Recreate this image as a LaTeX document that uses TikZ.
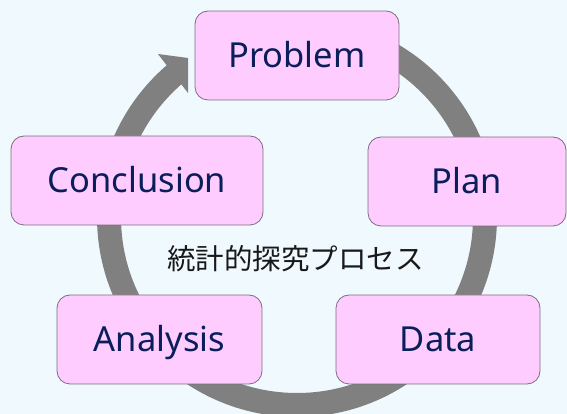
\documentclass[tikz,border=0pt]{standalone}
\usepackage{fontspec}
\setmainfont{Noto Sans}
\newfontfamily\cjk{Noto Sans CJK JP}
\definecolor{bgcol}{RGB}{239,249,254}
\definecolor{boxfill}{RGB}{255,204,255}
\definecolor{boxborder}{RGB}{125,110,125}
\definecolor{labelcol}{RGB}{10,30,90}
\definecolor{ringcol}{RGB}{128,128,128}
\begin{document}
\begin{tikzpicture}[x=1pt,y=1pt,
  stage/.style={draw=boxborder, line width=0.8pt, fill=boxfill, rounded corners=13pt,
    minimum height=89pt, text=labelcol, font=\fontsize{34.5}{40}\selectfont,
    text height=24.6pt, text depth=0pt, inner sep=0pt},
  ring/.style={draw=ringcol, line width=24pt}]
\fill[bgcol] (0,0) rectangle (567,414);
\useasboundingbox (0,0) rectangle (567,414);
\coordinate (c) at (297,197);
\coordinate (ringstart) at ([shift={(90:188)}]c);
\coordinate (wingout) at (158,360);
\coordinate (tip) at (188,356);
\coordinate (wingin) at (188,321);
% cycle ring
\draw[ring] (ringstart) arc[start angle=90, end angle=-230.5, radius=188];
\fill[ringcol] (wingout) -- (tip) -- (wingin) -- cycle;
% stages
\node[stage, minimum width=204pt] (problem) at (297,358.5) {Problem};
\node[stage, minimum width=198pt] (plan) at (467,232.5) {Plan};
\node[stage, minimum width=204pt] (data) at (438,74.5) {Data};
\node[stage, minimum width=205pt] (analysis) at (159.5,74.5) {Analysis};
\node[stage, minimum width=252pt] (conclusion) at (137,233.5) {Conclusion};
\node[font=\cjk\fontsize{28.5}{32}\selectfont, text=black!90, inner sep=0pt] (title) at (295.5,155) {統計的探究プロセス};
\end{tikzpicture}
\end{document}
